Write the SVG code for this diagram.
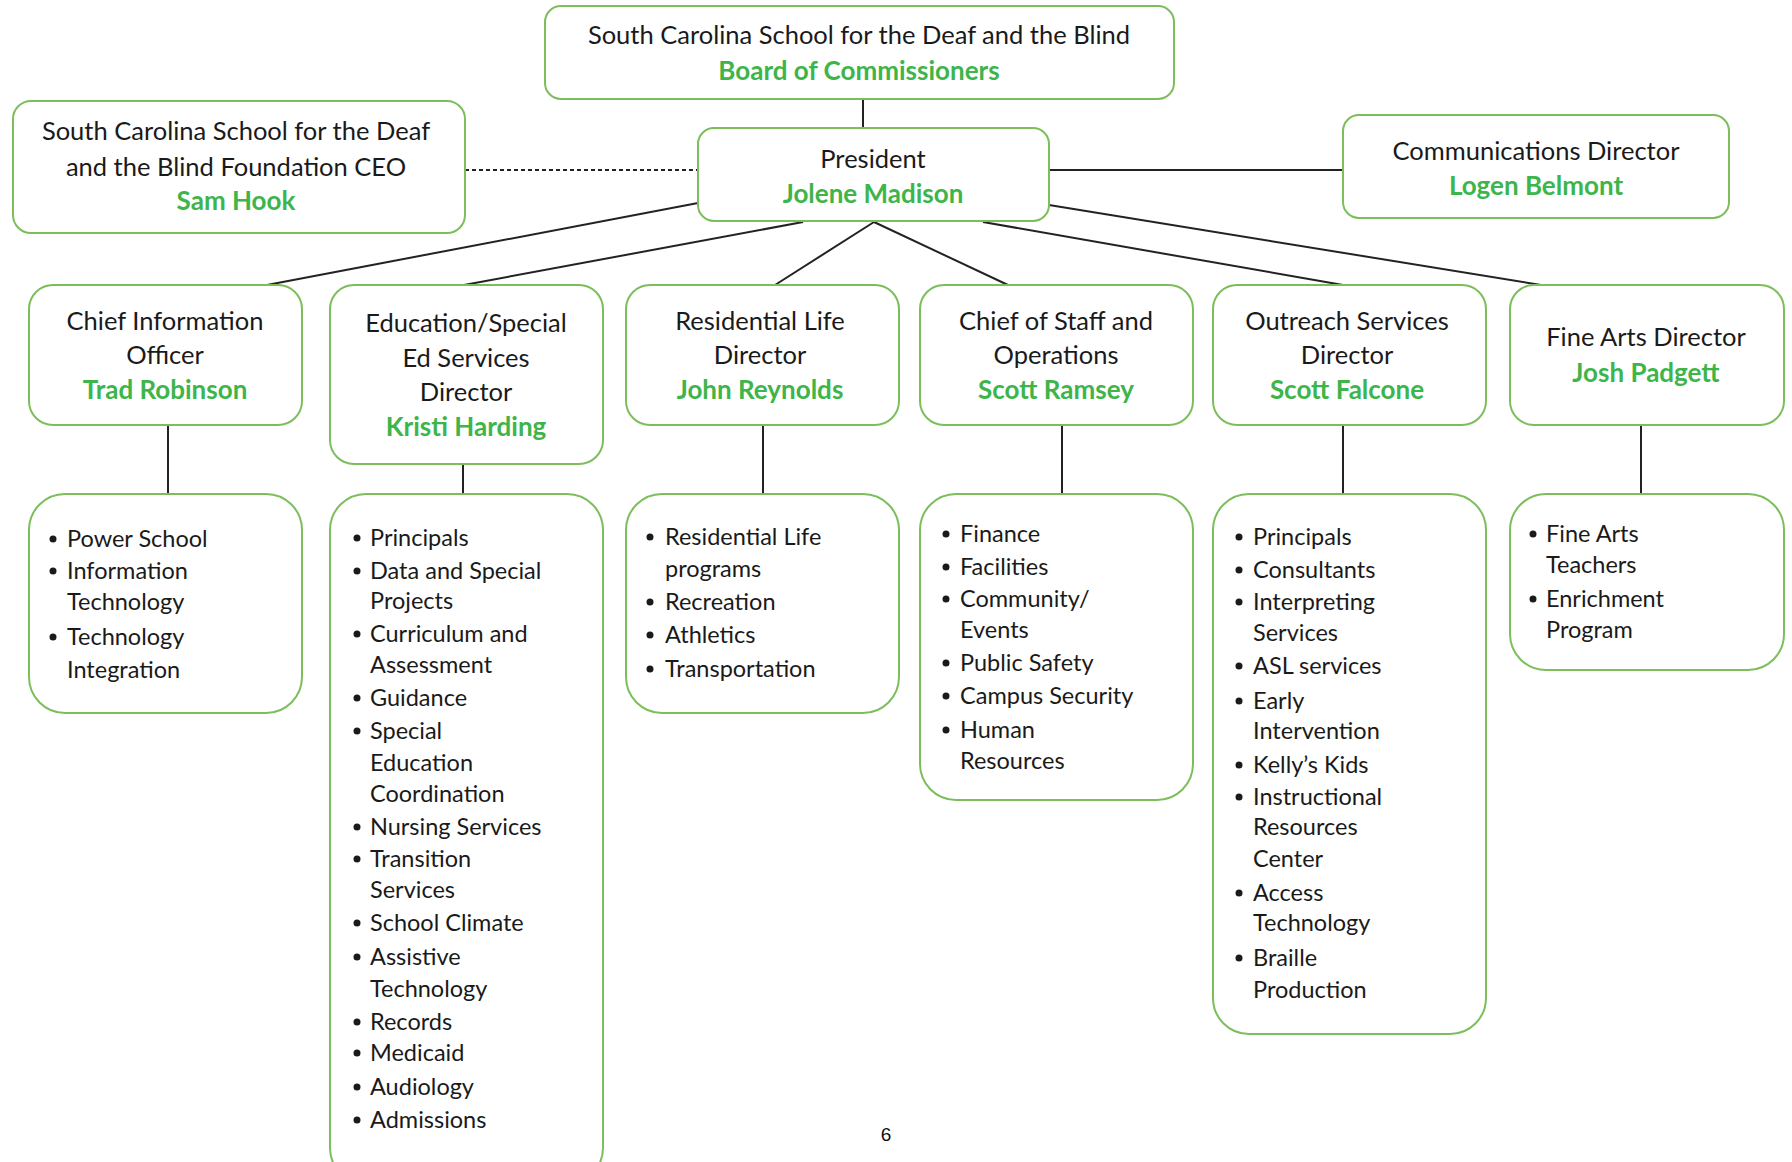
<svg xmlns="http://www.w3.org/2000/svg" width="1792" height="1162" viewBox="0 0 1792 1162">
<style>
.box{fill:#fff;stroke:#7CBE5B;stroke-width:2}
.t{font-family:Lato,"Open Sans",sans-serif;font-size:25.5px;fill:#1a1a1a;text-anchor:middle}
.n{font-family:Lato,"Open Sans",sans-serif;font-size:26px;font-weight:bold;fill:#3DB54A;text-anchor:middle}
.l{font-family:Lato,"Open Sans",sans-serif;font-size:23.5px;fill:#1a1a1a}
.c{stroke:#222;stroke-width:2;fill:none}
.d{stroke:#222;stroke-width:2;fill:none;stroke-dasharray:4 3}
.b{fill:#1a1a1a}
</style>
<rect width="1792" height="1162" fill="#fff"/>
<g id="connectors">
<line class="c" x1="863" y1="99" x2="863" y2="128"/>
<line class="d" x1="465" y1="170" x2="698" y2="170"/>
<line class="c" x1="1049" y1="170" x2="1343" y2="170"/>
<line class="c" x1="698" y1="203" x2="267" y2="285"/>
<line class="c" x1="803" y1="222" x2="464" y2="285"/>
<line class="c" x1="874" y1="222" x2="775" y2="285"/>
<line class="c" x1="874" y1="222" x2="1008" y2="285"/>
<line class="c" x1="983" y1="222" x2="1343" y2="285"/>
<line class="c" x1="1049" y1="205" x2="1541" y2="285"/>
<line class="c" x1="168" y1="425" x2="168" y2="494"/>
<line class="c" x1="463" y1="464" x2="463" y2="494"/>
<line class="c" x1="763" y1="425" x2="763" y2="494"/>
<line class="c" x1="1062" y1="425" x2="1062" y2="494"/>
<line class="c" x1="1343" y1="425" x2="1343" y2="494"/>
<line class="c" x1="1641" y1="425" x2="1641" y2="494"/>
</g>
<g id="board">
<rect class="box" x="545" y="6" width="629" height="93" rx="16"/>
<text class="t" x="859" y="44">South Carolina School for the Deaf and the Blind</text>
<text class="n" x="859" y="80">Board of Commissioners</text>
</g>
<g id="foundation">
<rect class="box" x="13" y="101" width="452" height="132" rx="18"/>
<text class="t" x="236" y="140">South Carolina School for the Deaf</text>
<text class="t" x="236" y="176">and the Blind Foundation CEO</text>
<text class="n" x="236" y="210">Sam Hook</text>
</g>
<g id="president">
<rect class="box" x="698" y="128" width="351" height="93" rx="16"/>
<text class="t" x="873" y="168">President</text>
<text class="n" x="873" y="203">Jolene Madison</text>
</g>
<g id="communications">
<rect class="box" x="1343" y="115" width="386" height="103" rx="16"/>
<text class="t" x="1536" y="160">Communications Director</text>
<text class="n" x="1536" y="195">Logen Belmont</text>
</g>
<g id="cio">
<rect class="box" x="29" y="285" width="273" height="140" rx="24"/>
<text class="t" x="165" y="330">Chief Information</text>
<text class="t" x="165" y="364">Officer</text>
<text class="n" x="165" y="399">Trad Robinson</text>
</g>
<g id="education">
<rect class="box" x="330" y="285" width="273" height="179" rx="24"/>
<text class="t" x="466" y="332">Education/Special</text>
<text class="t" x="466" y="367">Ed Services</text>
<text class="t" x="466" y="401">Director</text>
<text class="n" x="466" y="436">Kristi Harding</text>
</g>
<g id="residential">
<rect class="box" x="626" y="285" width="273" height="140" rx="24"/>
<text class="t" x="760" y="330">Residential Life</text>
<text class="t" x="760" y="364">Director</text>
<text class="n" x="760" y="399">John Reynolds</text>
</g>
<g id="staff">
<rect class="box" x="920" y="285" width="273" height="140" rx="24"/>
<text class="t" x="1056" y="330">Chief of Staff and</text>
<text class="t" x="1056" y="364">Operations</text>
<text class="n" x="1056" y="399">Scott Ramsey</text>
</g>
<g id="outreach">
<rect class="box" x="1213" y="285" width="273" height="140" rx="24"/>
<text class="t" x="1347" y="330">Outreach Services</text>
<text class="t" x="1347" y="364">Director</text>
<text class="n" x="1347" y="399">Scott Falcone</text>
</g>
<g id="finearts">
<rect class="box" x="1510" y="285" width="274" height="140" rx="24"/>
<text class="t" x="1646" y="346">Fine Arts Director</text>
<text class="n" x="1646" y="382">Josh Padgett</text>
</g>
<g id="cio-list">
<rect class="box" x="29" y="494" width="273" height="219" rx="36"/>
<circle class="b" cx="53" cy="539" r="3.5"/><text class="l" x="67" y="547">Power School</text>
<circle class="b" cx="53" cy="571" r="3.5"/><text class="l" x="67" y="579">Information</text>
<text class="l" x="67" y="610">Technology</text>
<circle class="b" cx="53" cy="637" r="3.5"/><text class="l" x="67" y="645">Technology</text>
<text class="l" x="67" y="678">Integration</text>
</g>
<g id="education-list">
<rect class="box" x="330" y="494" width="273" height="690" rx="36"/>
<circle class="b" cx="357" cy="538" r="3.5"/><text class="l" x="370" y="546">Principals</text>
<circle class="b" cx="357" cy="571" r="3.5"/><text class="l" x="370" y="579">Data and Special</text>
<text class="l" x="370" y="609">Projects</text>
<circle class="b" cx="357" cy="634" r="3.5"/><text class="l" x="370" y="642">Curriculum and</text>
<text class="l" x="370" y="673">Assessment</text>
<circle class="b" cx="357" cy="698" r="3.5"/><text class="l" x="370" y="706">Guidance</text>
<circle class="b" cx="357" cy="731" r="3.5"/><text class="l" x="370" y="739">Special</text>
<text class="l" x="370" y="771">Education</text>
<text class="l" x="370" y="802">Coordination</text>
<circle class="b" cx="357" cy="827" r="3.5"/><text class="l" x="370" y="835">Nursing Services</text>
<circle class="b" cx="357" cy="859" r="3.5"/><text class="l" x="370" y="867">Transition</text>
<text class="l" x="370" y="898">Services</text>
<circle class="b" cx="357" cy="923" r="3.5"/><text class="l" x="370" y="931">School Climate</text>
<circle class="b" cx="357" cy="957" r="3.5"/><text class="l" x="370" y="965">Assistive</text>
<text class="l" x="370" y="997">Technology</text>
<circle class="b" cx="357" cy="1022" r="3.5"/><text class="l" x="370" y="1030">Records</text>
<circle class="b" cx="357" cy="1053" r="3.5"/><text class="l" x="370" y="1061">Medicaid</text>
<circle class="b" cx="357" cy="1087" r="3.5"/><text class="l" x="370" y="1095">Audiology</text>
<circle class="b" cx="357" cy="1120" r="3.5"/><text class="l" x="370" y="1128">Admissions</text>
</g>
<g id="residential-list">
<rect class="box" x="626" y="494" width="273" height="219" rx="36"/>
<circle class="b" cx="650" cy="537" r="3.5"/><text class="l" x="665" y="545">Residential Life</text>
<text class="l" x="665" y="577">programs</text>
<circle class="b" cx="650" cy="602" r="3.5"/><text class="l" x="665" y="610">Recreation</text>
<circle class="b" cx="650" cy="635" r="3.5"/><text class="l" x="665" y="643">Athletics</text>
<circle class="b" cx="650" cy="669" r="3.5"/><text class="l" x="665" y="677">Transportation</text>
</g>
<g id="staff-list">
<rect class="box" x="920" y="494" width="273" height="306" rx="36"/>
<circle class="b" cx="946" cy="534" r="3.5"/><text class="l" x="960" y="542">Finance</text>
<circle class="b" cx="946" cy="567" r="3.5"/><text class="l" x="960" y="575">Facilities</text>
<circle class="b" cx="946" cy="599" r="3.5"/><text class="l" x="960" y="607">Community/</text>
<text class="l" x="960" y="638">Events</text>
<circle class="b" cx="946" cy="663" r="3.5"/><text class="l" x="960" y="671">Public Safety</text>
<circle class="b" cx="946" cy="696" r="3.5"/><text class="l" x="960" y="704">Campus Security</text>
<circle class="b" cx="946" cy="730" r="3.5"/><text class="l" x="960" y="738">Human</text>
<text class="l" x="960" y="769">Resources</text>
</g>
<g id="outreach-list">
<rect class="box" x="1213" y="494" width="273" height="540" rx="36"/>
<circle class="b" cx="1239" cy="537" r="3.5"/><text class="l" x="1253" y="545">Principals</text>
<circle class="b" cx="1239" cy="570" r="3.5"/><text class="l" x="1253" y="578">Consultants</text>
<circle class="b" cx="1239" cy="602" r="3.5"/><text class="l" x="1253" y="610">Interpreting</text>
<text class="l" x="1253" y="641">Services</text>
<circle class="b" cx="1239" cy="666" r="3.5"/><text class="l" x="1253" y="674">ASL services</text>
<circle class="b" cx="1239" cy="701" r="3.5"/><text class="l" x="1253" y="709">Early</text>
<text class="l" x="1253" y="739">Intervention</text>
<circle class="b" cx="1239" cy="765" r="3.5"/><text class="l" x="1253" y="773">Kelly’s Kids</text>
<circle class="b" cx="1239" cy="797" r="3.5"/><text class="l" x="1253" y="805">Instructional</text>
<text class="l" x="1253" y="835">Resources</text>
<text class="l" x="1253" y="867">Center</text>
<circle class="b" cx="1239" cy="893" r="3.5"/><text class="l" x="1253" y="901">Access</text>
<text class="l" x="1253" y="931">Technology</text>
<circle class="b" cx="1239" cy="958" r="3.5"/><text class="l" x="1253" y="966">Braille</text>
<text class="l" x="1253" y="998">Production</text>
</g>
<g id="finearts-list">
<rect class="box" x="1510" y="494" width="274" height="176" rx="36"/>
<circle class="b" cx="1533" cy="534" r="3.5"/><text class="l" x="1546" y="542">Fine Arts</text>
<text class="l" x="1546" y="573">Teachers</text>
<circle class="b" cx="1533" cy="599" r="3.5"/><text class="l" x="1546" y="607">Enrichment</text>
<text class="l" x="1546" y="638">Program</text>
</g>
<text x="886" y="1141" font-family="Liberation Sans, Arial, sans-serif" font-size="19" fill="#111" text-anchor="middle">6</text>
</svg>
